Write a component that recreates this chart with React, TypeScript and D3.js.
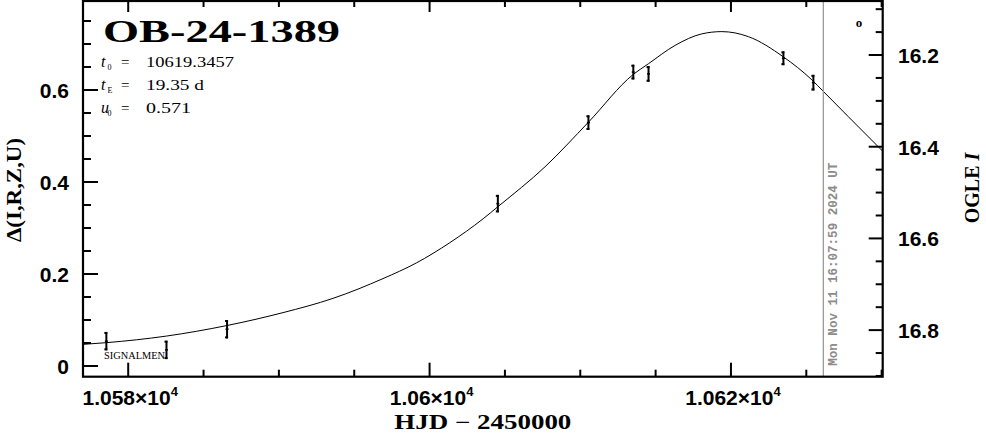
import React from 'react';
import * as d3 from 'd3';

const W = 986;
const H = 434;

// ---------- data ----------
const title = 'OB-24-1389';
const paramSymbols = ['t', 't', 'u'];
const paramSubs = ['0', 'E', '0'];
const paramValues = ['10619.3457', '19.35 d', '0.571'];

const obsT = [10578.55, 10582.54, 10586.56, 10604.53, 10610.54, 10613.52, 10614.53, 10623.48, 10625.47];
const obsDelta = [0.054, 0.035, 0.080, 0.353, 0.529, 0.639, 0.635, 0.669, 0.616];
const obsErr = [0.020, 0.020, 0.020, 0.019, 0.016, 0.016, 0.017, 0.015, 0.017];

const modelT = [10577.0, 10578.55, 10582.53, 10586.56, 10590.27, 10593.59, 10596.91, 10599.12, 10601.34, 10603.55, 10604.56, 10607.66, 10610.54, 10613.52, 10614.52, 10616.29, 10618.06, 10619.39, 10621.16, 10623.48, 10625.37, 10626.13, 10627.79, 10630.07];
const modelDelta = [0.047, 0.0507, 0.065, 0.088, 0.116, 0.147, 0.190, 0.224, 0.268, 0.320, 0.347, 0.433, 0.530, 0.634, 0.657, 0.697, 0.722, 0.727, 0.716, 0.672, 0.622, 0.597, 0.542, 0.467];

const xMajorTicks = [10580, 10600, 10620];
const xMinorTicks = [10585, 10590, 10595, 10605, 10610, 10615, 10625, 10630];
const yMajorTicks = [0, 0.2, 0.4, 0.6];
const yMinorTicks = [0.05, 0.1, 0.15, 0.25, 0.3, 0.35, 0.45, 0.5, 0.55, 0.65, 0.7, 0.75];
const magMajorTicks = [16.2, 16.4, 16.6, 16.8];
const magMinorTicks = [16.1, 16.15, 16.25, 16.3, 16.35, 16.45, 16.5, 16.55, 16.65, 16.7, 16.75, 16.85, 16.9];

const nowT = 10626.13;
const nowLabel = 'Mon Nov 11 16:07:59 2024 UT';
const xLabel = 'HJD \u2212 2450000';
const yLabel = '\u0394(I,R,Z,U)';
const y2Label = 'OGLE ';
const y2LabelItalic = 'I';
const observatory = 'SIGNALMEN';

// ---------- layout ----------
const L = 83;
const R = 882.7;
const T = 1;
const B = 376.7;

export default function App() {
  const x = d3.scaleLinear().domain([10577.0, 10630.07]).range([L, R]);
  const y = d3.scaleLinear().domain([-0.0233, 0.7957]).range([B, 0]);
  const ym = d3.scaleLinear().domain([16.9016, 16.080]).range([B, 0]);

  const line = d3
    .line<number>()
    .x((_, i) => x(modelT[i]))
    .y((d) => y(d))
    .curve(d3.curveMonotoneX);

  const sans = "'Liberation Sans', Arial, sans-serif";
  const serif = "'Liberation Serif', 'Times New Roman', serif";
  const mono = "'Liberation Mono', 'DejaVu Sans Mono', monospace";

  const majorLen = 14;
  const minorLen = 7;

  return (
    <svg
      width={W}
      height={H}
      style={{ position: 'absolute', left: 0, top: 0, background: '#fff' }}
    >
      <rect x={0} y={0} width={W} height={H} fill="#fff" />
      <defs>
        <clipPath id="plot">
          <rect x={L} y={T} width={R - L} height={B - T} />
        </clipPath>
      </defs>

      {/* model curve */}
      <path d={line(modelDelta) || ''} fill="none" stroke="#000" strokeWidth={1} clipPath="url(#plot)" />

      {/* current time line */}
      <line x1={x(nowT)} x2={x(nowT)} y1={T} y2={B} stroke="#9a9a9a" strokeWidth={1.3} />
      <text
        transform={`translate(${x(nowT) + 13.5},${B - 11}) rotate(-90)`}
        fontFamily={mono}
        fontWeight="bold"
        fontSize={12}
        fill="#8c8c8c"
        textLength={203}
        lengthAdjust="spacingAndGlyphs"
      >
        {nowLabel}
      </text>

      {/* error bars */}
      {obsT.map((t, i) => {
        const cx = x(t);
        const y1 = y(obsDelta[i] + obsErr[i]);
        const y2 = y(obsDelta[i] - obsErr[i]);
        const cy = y(obsDelta[i]);
        return (
          <g key={i} stroke="#000" strokeWidth={2}>
            <line x1={cx} x2={cx} y1={y1} y2={y2} />
            <line x1={cx - 2} x2={cx + 1} y1={y1 + 1} y2={y1 + 1} />
            <line x1={cx - 2} x2={cx + 1} y1={y2 - 1} y2={y2 - 1} />
            <line x1={cx - 1.5} x2={cx + 1.5} y1={cy} y2={cy} strokeWidth={1.5} />
          </g>
        );
      })}

      {/* frame */}
      <rect x={L} y={T} width={R - L} height={B - T} fill="none" stroke="#000" strokeWidth={2.2} />

      {/* x ticks bottom & top */}
      {xMajorTicks.map((v) => (
        <g key={'xM' + v} stroke="#000" strokeWidth={2}>
          <line x1={x(v)} x2={x(v)} y1={B} y2={B - majorLen} />
          <line x1={x(v)} x2={x(v)} y1={T} y2={T + 11} />
        </g>
      ))}
      {xMinorTicks.map((v) => (
        <g key={'xm' + v} stroke="#000" strokeWidth={2}>
          <line x1={x(v)} x2={x(v)} y1={B} y2={B - minorLen} />
          <line x1={x(v)} x2={x(v)} y1={T} y2={T + 6} />
        </g>
      ))}
      {xMajorTicks.map((v) => (
        <text
          key={'xl' + v}
          x={x(v) + 2}
          y={405}
          textAnchor="middle"
          fontFamily={sans}
          fontWeight="bold"
          fontSize={21}
          fill="#000"
        >
          {`${v / 1e4}\u00d710`}
          <tspan fontSize={13} dy={-9}>4</tspan>
        </text>
      ))}

      {/* left y ticks */}
      {yMajorTicks.map((v) => (
        <g key={'yM' + v}>
          <line x1={L} x2={L + 15} y1={y(v)} y2={y(v)} stroke="#000" strokeWidth={2} />
          <text
            x={69}
            y={y(v) + 8}
            textAnchor="end"
            fontFamily={sans}
            fontWeight="bold"
            fontSize={21}
            fill="#000"
          >
            {v === 0 ? '0' : v.toFixed(1)}
          </text>
        </g>
      ))}
      {yMinorTicks.map((v) => (
        <line key={'ym' + v} x1={L} x2={L + 8} y1={y(v)} y2={y(v)} stroke="#000" strokeWidth={2} />
      ))}

      {/* right magnitude ticks */}
      {magMajorTicks.map((v) => (
        <g key={'mM' + v}>
          <line x1={R} x2={R - majorLen} y1={ym(v)} y2={ym(v)} stroke="#000" strokeWidth={2} />
          <text
            x={898}
            y={ym(v) + 8}
            fontFamily={sans}
            fontWeight="bold"
            fontSize={21}
            fill="#000"
          >
            {v.toFixed(1)}
          </text>
        </g>
      ))}
      {magMinorTicks.map((v) => (
        <line key={'mm' + v} x1={R} x2={R - minorLen} y1={ym(v)} y2={ym(v)} stroke="#000" strokeWidth={2} />
      ))}

      {/* title & parameters */}
      <text
        x={103}
        y={42}
        fontFamily={serif}
        fontWeight="bold"
        fontSize={31}
        textLength={237}
        lengthAdjust="spacingAndGlyphs"
        fill="#000"
      >
        {title}
      </text>
      {paramSymbols.map((s, i) => {
        const by = 67 + i * 22.8;
        return (
          <g key={'p' + i} fontFamily={serif} fill="#000">
            <text x={101} y={by} fontStyle="italic" fontSize={16}>{s}</text>
            <text x={107.5} y={by + 3} fontSize={8}>{paramSubs[i]}</text>
            <text x={121} y={by} fontSize={15}>=</text>
            <text
              x={146}
              y={by}
              fontSize={14}
              textLength={i === 0 ? 88 : i === 1 ? 58 : 45}
              lengthAdjust="spacingAndGlyphs"
            >
              {paramValues[i]}
            </text>
          </g>
        );
      })}

      {/* observatory label */}
      <text
        x={104}
        y={359}
        fontFamily={serif}
        fontSize={11}
        textLength={61}
        lengthAdjust="spacingAndGlyphs"
        fill="#000"
      >
        {observatory}
      </text>

      {/* small marker top right */}
      <text x={859} y={27} textAnchor="middle" fontFamily={serif} fontWeight="bold" fontSize={13} fill="#000">
        o
      </text>

      {/* axis labels */}
      <text
        x={(L + R) / 2}
        y={429}
        textAnchor="middle"
        fontFamily={serif}
        fontWeight="bold"
        fontSize={20}
        textLength={177}
        lengthAdjust="spacingAndGlyphs"
        fill="#000"
      >
        {xLabel}
      </text>
      <text
        transform={`translate(21,190) rotate(-90)`}
        textAnchor="middle"
        fontFamily={serif}
        fontWeight="bold"
        fontSize={21}
        textLength={104}
        lengthAdjust="spacingAndGlyphs"
        fill="#000"
      >
        {yLabel}
      </text>
      <text
        transform={`translate(979,188) rotate(-90)`}
        textAnchor="middle"
        fontFamily={serif}
        fontWeight="bold"
        fontSize={20}
        fill="#000"
      >
        {y2Label}
        <tspan fontStyle="italic">{y2LabelItalic}</tspan>
      </text>
    </svg>
  );
}
